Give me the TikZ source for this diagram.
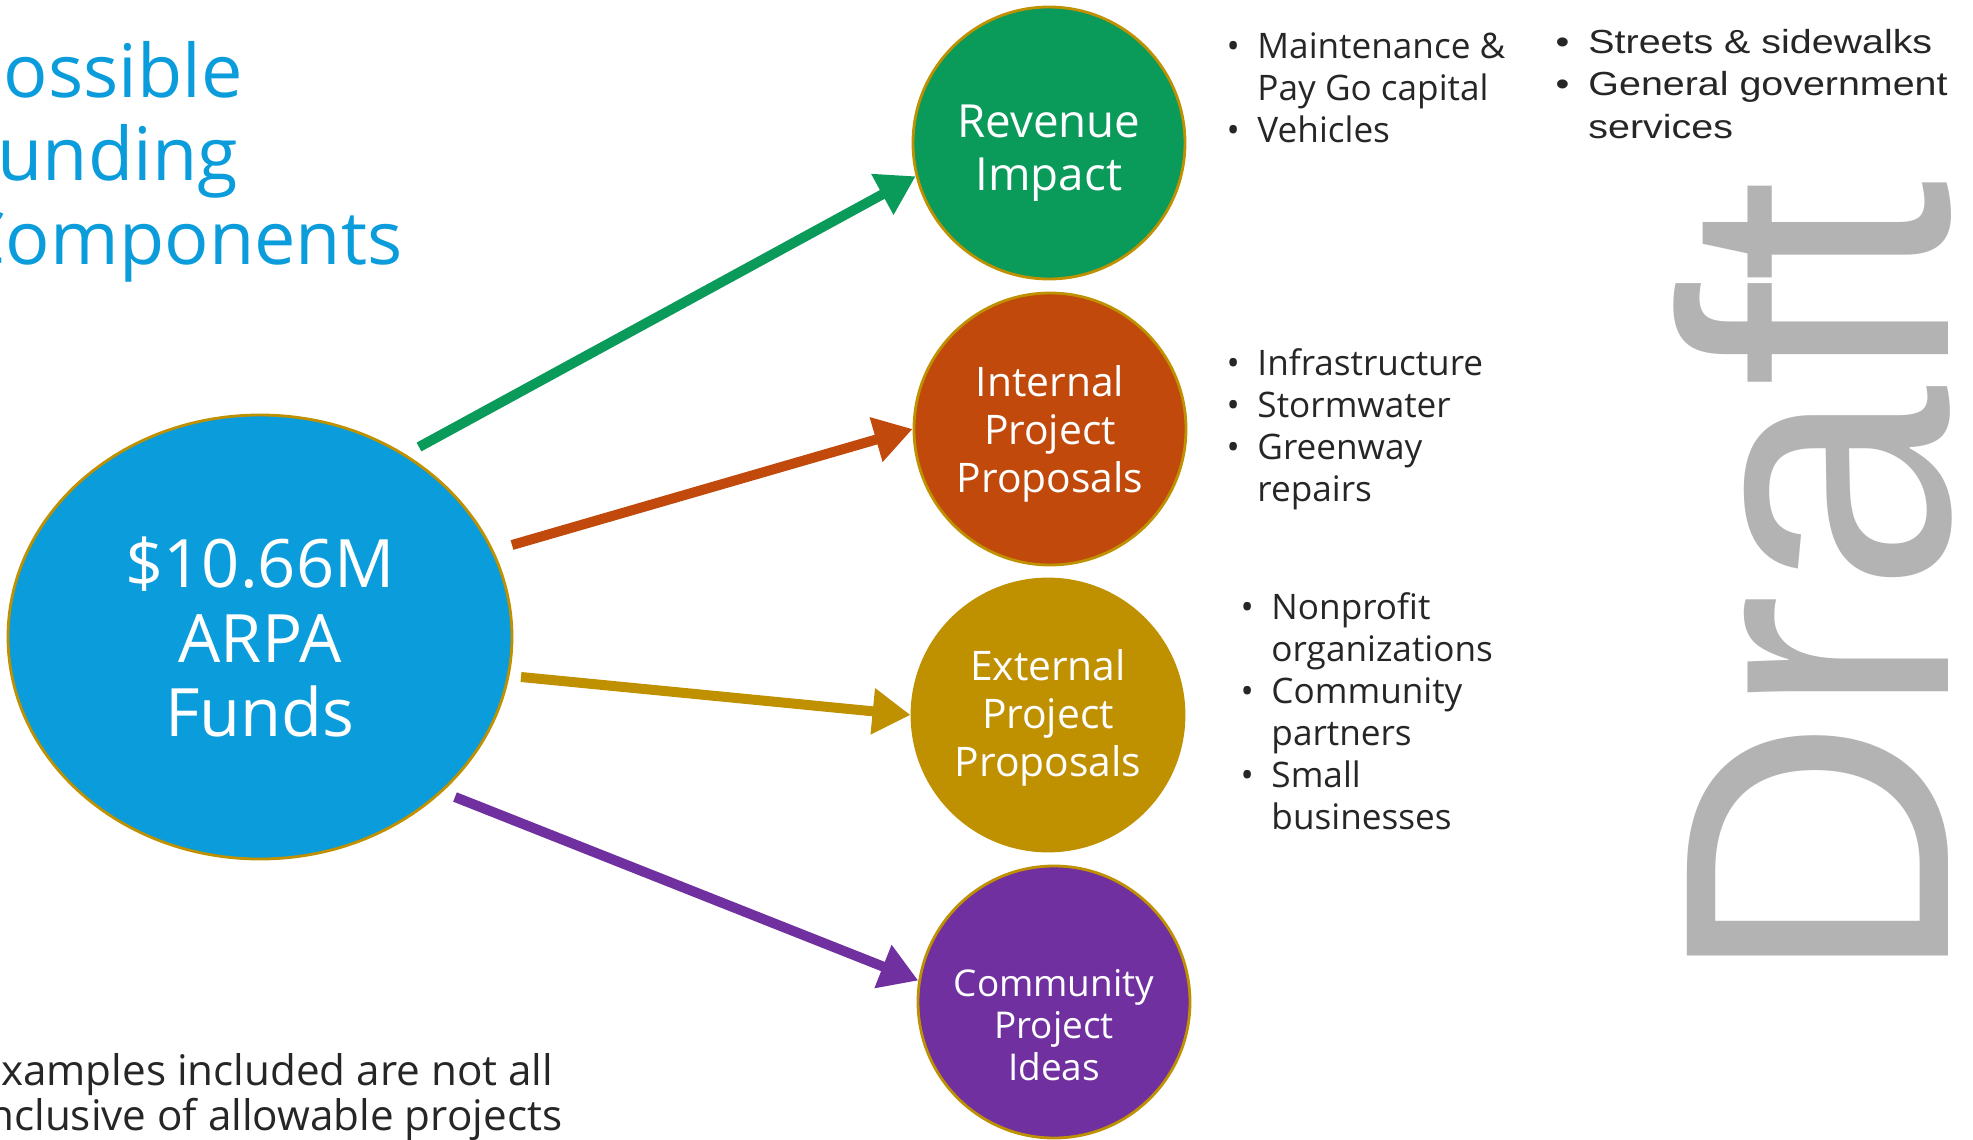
\documentclass[tikz,border=0pt]{standalone}
\usepackage{fontspec}
\setmainfont{Open Sans}
\newfontfamily\draftfont[FakeStretch=0.98]{Liberation Sans}
\newfontfamily\widefont[FakeStretch=1.18]{Liberation Sans}
\usetikzlibrary{shapes.geometric,arrows.meta}
\definecolor{fundblue}{HTML}{0B9CDB}
\definecolor{revgreen}{HTML}{0A9A5A}
\definecolor{intorange}{HTML}{C0490B}
\definecolor{extgold}{HTML}{BF9000}
\definecolor{compurple}{HTML}{7030A0}
\definecolor{notegray}{HTML}{262626}
\definecolor{draftgray}{HTML}{B3B3B3}
\tikzset{
  bubble/.style={circle, draw=extgold, line width=.8pt, minimum size=2.72cm, inner sep=0pt},
  btext/.style={text=white, align=center, inner sep=0pt},
  link/.style={line width=1mm, -{Triangle[length=3.8mm,width=4.4mm]}},
  notes/.style={inner sep=0pt, anchor=base west, text=notegray, font=\fontsize{10}{12}\selectfont}
}

\begin{document}
\begin{tikzpicture}
        \useasboundingbox (0,0) rectangle (19.73,-11.40);
        \clip (0,0) rectangle (19.73,-11.40);
        % title and footnote
        \node[inner sep=0pt, anchor=base east, text=fundblue, font=\fontsize{21}{23.8}\selectfont] (title) at (4.03,-0.97) {\begin{tabular}[t]{@{}l@{}}Possible\\Funding\\Components\end{tabular}};
        \node[inner sep=0pt, anchor=base west, text=notegray, font=\fontsize{12}{12.8}\selectfont] (foot) at (-0.23,-10.85) {\begin{tabular}[t]{@{}l@{}}Examples included are not all\\inclusive of allowable projects\end{tabular}};
        % watermark
        \node[inner sep=0pt, rotate=90, anchor=base west, text=draftgray, font=\draftfont\fontsize{108}{108}\selectfont] (draft) at (19.48,-9.87) {Draft};
        % funds and the four parts
        \node[ellipse, fill=fundblue, draw=extgold, line width=.8pt, minimum width=5.04cm, minimum height=4.44cm, text=white, align=center, font=\fontsize{19}{21.2}\selectfont] (fund) at (2.60,-6.37) {\$10.66M\\ARPA\\Funds};
        \node[bubble, fill=revgreen] (rev) at (10.49,-1.43) {};
        \node[bubble, fill=intorange] (intp) at (10.50,-4.29) {};
        \node[bubble, fill=extgold] (extp) at (10.48,-7.15) {};
        \node[bubble, fill=compurple] (comm) at (10.54,-10.02) {};
        \node[btext, font=\fontsize{13}{15}\selectfont] (revtxt) at ([yshift=-0.1cm]rev.center) {Revenue\\Impact};
        \node[btext, font=\fontsize{11.6}{13.6}\selectfont] (inttxt) at ([yshift=-0.05cm]intp.center) {Internal\\Project\\Proposals};
        \node[btext, font=\fontsize{11.6}{13.6}\selectfont] (exttxt) at ([yshift=-0.03cm]extp.center) {External\\Project\\Proposals};
        \node[btext, font=\fontsize{10.5}{12}\selectfont] (commtxt) at ([yshift=-0.23cm]comm.center) {Community\\Project\\Ideas};
        % arrows
        \coordinate (g0) at (4.19,-4.47);
        \coordinate (o0) at (5.12,-5.45);
        \coordinate (y0) at (5.21,-6.77);
        \coordinate (p0) at (4.55,-7.97);
        \draw[link, revgreen] (g0) -- (rev.194);
        \draw[link, intorange] (o0) -- (intp.west);
        \draw[link, extgold] (y0) -- (extp.west);
        \draw[link, compurple] (p0) -- (comm.171);
        % examples
        \node[notes] (revlist) at (12.26,-0.58) {\begin{tabular}[t]{@{}l@{\hspace{5pt}}l@{}}\textbullet & Maintenance \&\\ & Pay Go capital\\ \textbullet & Vehicles\end{tabular}};
        \node[notes, font=\widefont\fontsize{9.5}{12.1}\selectfont] (revlist2) at (15.55,-0.53) {\begin{tabular}[t]{@{}l@{\hspace{5.4pt}}l@{}}\textbullet & Streets \& sidewalks\\ \textbullet & General government\\ & services\end{tabular}};
        \node[notes] (intlist) at (12.26,-3.75) {\begin{tabular}[t]{@{}l@{\hspace{5pt}}l@{}}\textbullet & Infrastructure\\ \textbullet & Stormwater\\ \textbullet & Greenway\\ & repairs\end{tabular}};
        \node[notes] (extlist) at (12.40,-6.19) {\begin{tabular}[t]{@{}l@{\hspace{5pt}}l@{}}\textbullet & Nonprofit\\ & organizations\\ \textbullet & Community\\ & partners\\ \textbullet & Small\\ & businesses\end{tabular}};
\end{tikzpicture}
\end{document}
